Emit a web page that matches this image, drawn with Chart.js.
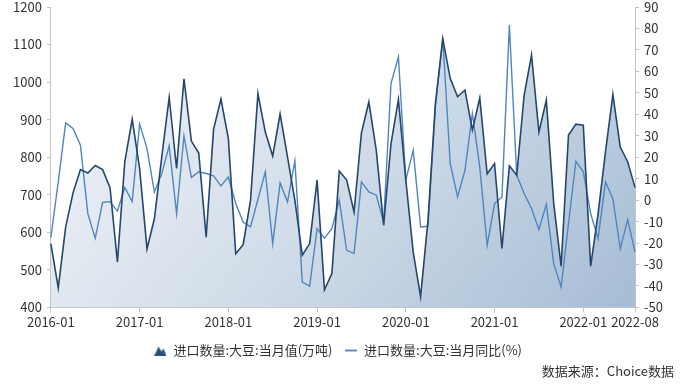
<!DOCTYPE html>
<html>
<head>
<meta charset="utf-8">
<script src="https://cdn.jsdelivr.net/npm/chart.js@4.4.1/dist/chart.umd.min.js"></script>
<style>
    html, body { margin: 0; padding: 0; background: #fff; }
    #wrap { width: 680px; height: 385px; position: relative; }
</style>
</head>
<body>
<div id="wrap"><canvas id="soyChart" width="680" height="385"></canvas></div>
<script>
// 月份 2016-01 .. 2022-08
const months = [];
for (let y = 2016; y <= 2022; y++) {
    for (let m = 1; m <= 12; m++) {
        if (y === 2022 && m > 8) break;
        months.push(y + '-' + String(m).padStart(2, '0'));
    }
}

// 进口数量:大豆:当月值(万吨)
const importVolume = [
    570, 452, 614, 705, 767, 758, 778, 767, 719, 521, 788, 901,
    770, 556, 636, 801, 959, 770, 1009, 843, 811, 587, 874, 955,
    850, 543, 567, 685, 969, 867, 803, 915, 801, 685, 539, 570,
    739, 447, 490, 763, 739, 654, 865, 947, 819, 619, 836, 954,
    739, 547, 429, 632, 943, 1116, 1010, 961, 979, 872, 958, 756,
    783, 557, 777, 752, 965, 1072, 867, 952, 677, 510, 859, 888,
    885, 510, 650, 814, 967, 827, 788, 719
];

// 进口数量:大豆:当月同比(%)
const importYoY = [
    -17.5, 8.5, 36, 33.4, 25.6, -6.3, -17.7, -1.1, -0.7, -5.1, 5.9, -0.7,
    35.4, 24.1, 3.8, 12.4, 25.3, -6.3, 29.9, 10.5, 13.2, 12.4, 11.3, 6.6,
    10.8, -1.6, -10.2, -12.5, 0.3, 13.2, -20.3, 8, -0.9, 18.3, -38.2, -40.1,
    -13.3, -17.7, -13.3, 0, -23.4, -24.9, 8.5, 3.8, 2.3, -10.2, 54.4, 66.8,
    9.3, 23.3, -12.5, -12.2, 43.5, 75.4, 17.1, 1.5, 13.9, 40.4, 15.5, -21.1,
    -1.6, 1.5, 81.6, 11.6, 3.1, -3.9, -13.7, -2, -29.6, -40.5, -10.9, 18.1,
    13.2, -6.3, -17.9, 8.5, 0.7, -22.6, -9.1, -24.2
];

const volumeTicks = [400, 500, 600, 700, 800, 900, 1000, 1100, 1200];
const yoyTicks = [-50, -40, -30, -20, -10, 0, 10, 20, 30, 40, 50, 60, 70, 80, 90];

const seriesNames = ['进口数量:大豆:当月值(万吨)', '进口数量:大豆:当月同比(%)'];
const sourceText = '数据来源：Choice数据';

const FONT = '"Noto Sans CJK SC", "Noto Sans", sans-serif';
const AXIS_COLOR = '#c4c4c4';

// 图例图标
function makeAreaIcon() {
    const c = document.createElement('canvas');
    c.width = 12; c.height = 10;
    const g = c.getContext('2d');
    g.fillStyle = '#2b4e77';
    g.beginPath();
    g.moveTo(0, 10); g.lineTo(4, 1); g.lineTo(7, 6); g.lineTo(9, 3); g.lineTo(12, 10);
    g.closePath();
    g.fill();
    return c;
}
function makeLineIcon() {
    const c = document.createElement('canvas');
    c.width = 12; c.height = 4;
    const g = c.getContext('2d');
    g.fillStyle = '#5b8ec4';
    g.fillRect(0, 1, 12, 2);
    return c;
}
const areaIcon = makeAreaIcon();
const lineIcon = makeLineIcon();

function isYearTick(i) {
    return i % 12 === 0 || i === months.length - 1;
}

const sourcePlugin = {
    id: 'sourceText',
    afterDraw(chart) {
        const ctx = chart.ctx;
        ctx.save();
        ctx.font = '13px ' + FONT;
        ctx.fillStyle = '#333';
        ctx.textAlign = 'right';
        ctx.textBaseline = 'middle';
        ctx.fillText(sourceText, 674, 371);
        ctx.restore();
    }
};

// 顶部留白与参考图一致
const trimTop = axis => { axis.paddingTop = 7; };

const ctx = document.getElementById('soyChart').getContext('2d');
new Chart(ctx, {
    type: 'line',
    data: {
        labels: months,
        datasets: [{
            label: seriesNames[0],
            data: importVolume,
            yAxisID: 'y',
            borderColor: '#25466d',
            borderWidth: 1.6,
            pointRadius: 0,
            tension: 0,
            fill: 'start',
            backgroundColor: function(context) {
                const area = context.chart.chartArea;
                if (!area) return 'rgba(200,214,230,0.8)';
                const grad = context.chart.ctx.createLinearGradient(area.left, area.top + 40, area.right - 120, area.bottom + 120);
                grad.addColorStop(0, 'rgba(242,245,249,1)');
                grad.addColorStop(0.5, 'rgba(210,221,233,1)');
                grad.addColorStop(1, 'rgba(168,190,214,1)');
                return grad;
            }
        },
        {
            label: seriesNames[1],
            data: importYoY,
            yAxisID: 'y1',
            borderColor: '#4f86c0',
            borderWidth: 1.4,
            pointRadius: 0,
            tension: 0,
            fill: false
        }]
    },
    options: {
        responsive: false,
        animation: false,
        devicePixelRatio: 1,
        layout: { padding: { left: 8, right: 12, top: 0, bottom: 18 } },
        scales: {
            x: {
                offset: false,
                grid: {
                    drawOnChartArea: false,
                    tickLength: 5,
                    color: c => isYearTick(c.index) ? AXIS_COLOR : 'rgba(0,0,0,0)'
                },
                border: { color: AXIS_COLOR },
                ticks: {
                    autoSkip: false,
                    maxRotation: 0,
                    padding: 2,
                    color: '#333',
                    font: { family: FONT, size: 13 },
                    callback: (value, index) => isYearTick(index) ? months[index] : ''
                }
            },
            y: {
                position: 'left',
                min: volumeTicks[0],
                max: volumeTicks[volumeTicks.length - 1],
                afterBuildTicks: axis => { axis.ticks = volumeTicks.map(v => ({ value: v })); },
                afterFit: trimTop,
                grid: { drawOnChartArea: false, tickLength: 4, color: AXIS_COLOR },
                border: { color: AXIS_COLOR },
                ticks: {
                    color: '#333', padding: 5,
                    font: { family: FONT, size: 13, lineHeight: 1.05 },
                    callback: v => String(v)
                }
            },
            y1: {
                position: 'right',
                min: yoyTicks[0],
                max: yoyTicks[yoyTicks.length - 1],
                afterBuildTicks: axis => { axis.ticks = yoyTicks.map(v => ({ value: v })); },
                afterFit: trimTop,
                grid: { drawOnChartArea: false, tickLength: 4, color: AXIS_COLOR },
                border: { color: AXIS_COLOR },
                ticks: {
                    color: '#333', padding: 5,
                    font: { family: FONT, size: 13, lineHeight: 1.05 },
                    callback: v => String(v)
                }
            }
        },
        plugins: {
            filler: { drawTime: 'beforeDatasetsDraw' },
            tooltip: { enabled: false },
            legend: {
                position: 'bottom',
                labels: {
                    usePointStyle: true,
                    color: '#333',
                    padding: 12,
                    font: { family: FONT, size: 13 },
                    generateLabels: chart => chart.data.datasets.map((ds, i) => ({
                        text: ds.label,
                        datasetIndex: i,
                        pointStyle: i === 0 ? areaIcon : lineIcon,
                        fillStyle: ds.borderColor,
                        strokeStyle: ds.borderColor,
                        lineWidth: 0,
                        fontColor: '#333',
                        hidden: false
                    }))
                }
            }
        }
    },
    plugins: [sourcePlugin]
});
</script>
</body>
</html>
